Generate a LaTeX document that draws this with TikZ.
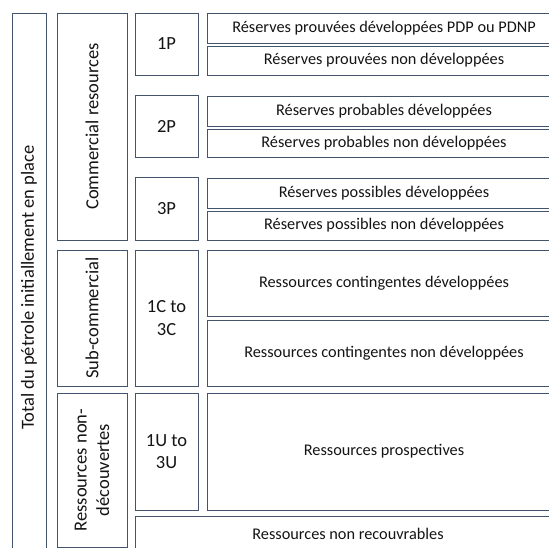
\documentclass[tikz,border=0pt]{standalone}
\usepackage{fontspec}
\setmainfont{Carlito}
\usepackage{tikz}
\definecolor{boxline}{RGB}{68,84,106}
\definecolor{boxtext}{RGB}{20,20,20}

\begin{document}
\begin{tikzpicture}[x=1pt, y=-1pt,
    cell/.style={draw=boxline, line width=0.9pt, inner sep=0pt, align=center,
      text=boxtext, font=\fontsize{16.3}{19.5}\selectfont},
    bigcell/.style={cell, font=\fontsize{18.5}{22.5}\selectfont},
    vcell/.style={bigcell, rotate=90}]
    \useasboundingbox (0,0) rectangle (549,547);
    \clip (0,0) rectangle (549,547);
    % left column, rotated labels
    \node (total) [vcell, minimum width=549pt, minimum height=34pt] at (29,287.5) {Total du pétrole initiallement en place};
    \node (comm) [vcell, minimum width=227pt, minimum height=70pt] at (92,126.5) {Commercial resources};
    \node (subcomm) [vcell, minimum width=136pt, minimum height=70pt] at (92,318) {Sub-commercial};
    \node (undisc) [vcell, minimum width=154pt, minimum height=70pt] at (92,470) {Ressources non-\\découvertes};
    % categories
    \node (p1) [bigcell, minimum width=63pt, minimum height=62pt] at (166.5,44) {1P};
    \node (p2) [bigcell, minimum width=63pt, minimum height=62pt] at (166.5,126) {2P};
    \node (p3) [bigcell, minimum width=63pt, minimum height=63pt] at (166.5,208.5) {3P};
    \node (c13) [bigcell, minimum width=63pt, minimum height=136pt] at (166.5,318) {1C to\\3C};
    \node (u13) [bigcell, minimum width=63pt, minimum height=117pt] at (166.5,451.5) {1U to\\3U};
    % right column
    \node (p1a) [cell, minimum width=354pt, minimum height=30pt] at (384,28) {Réserves prouvées développées PDP ou PDNP};
    \node (p1b) [cell, minimum width=354pt, minimum height=29pt] at (384,60.5) {Réserves prouvées non développées};
    \node (p2a) [cell, minimum width=354pt, minimum height=30pt] at (384,111) {Réserves probables développées};
    \node (p2b) [cell, minimum width=354pt, minimum height=28pt] at (384,143) {Réserves probables non développées};
    \node (p3a) [cell, minimum width=354pt, minimum height=30pt] at (384,193) {Réserves possibles développées};
    \node (p3b) [cell, minimum width=354pt, minimum height=29pt] at (384,225.5) {Réserves possibles non développées};
    \node (c13a) [cell, minimum width=354pt, minimum height=66pt] at (384,283) {Ressources contingentes développées};
    \node (c13b) [cell, minimum width=354pt, minimum height=66pt] at (384,353) {Ressources contingentes non développées};
    \node (pros) [cell, minimum width=354pt, minimum height=117pt] at (384,451.5) {Ressources prospectives};
    \node (nonrec) [cell, minimum width=426pt, minimum height=36pt] at (348,534) {Ressources non recouvrables};
\end{tikzpicture}
\end{document}
